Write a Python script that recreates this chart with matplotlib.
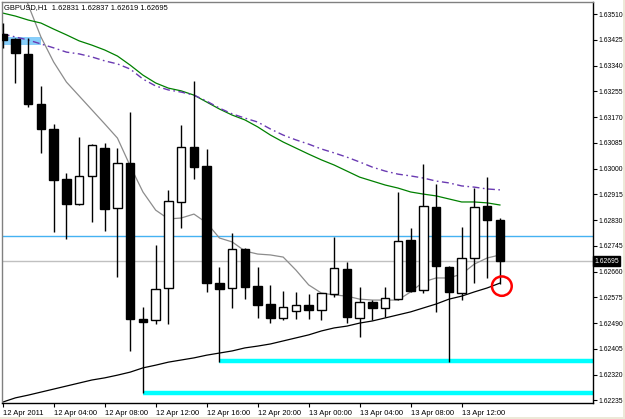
import matplotlib
matplotlib.use('Agg')
import matplotlib.pyplot as plt
from matplotlib.patches import Rectangle, Ellipse

# ---------------- data (GBPUSD H1, 12 Apr 2011 00:00 .. 13 Apr 15:00) ----------------
opens = [1.63445, 1.63428, 1.63380, 1.63215, 1.63131, 1.62966, 1.62884, 1.62975, 1.63068, 1.62870,
         1.63018, 1.62504, 1.62499, 1.62605, 1.62889, 1.63070, 1.63010, 1.62621, 1.62606, 1.62735,
         1.62611, 1.62553, 1.62506, 1.62530, 1.62550, 1.62534, 1.62587, 1.62670, 1.62506, 1.62561,
         1.62541, 1.62570, 1.62763, 1.62600, 1.62875, 1.62676, 1.62590, 1.62704, 1.62877, 1.62831]
highs = [1.63480, 1.63433, 1.63431, 1.63273, 1.63147, 1.62985, 1.63106, 1.63080, 1.63084, 1.63069,
         1.63188, 1.62542, 1.62748, 1.62930, 1.63144, 1.63290, 1.63065, 1.62676, 1.62789, 1.62737,
         1.62674, 1.62616, 1.62596, 1.62594, 1.62586, 1.62589, 1.62775, 1.62693, 1.62610, 1.62566,
         1.62608, 1.62924, 1.62803, 1.63015, 1.62949, 1.62678, 1.62806, 1.62935, 1.62973, 1.62837]
lows = [1.63398, 1.63284, 1.63203, 1.63053, 1.62790, 1.62769, 1.62880, 1.62823, 1.62795, 1.62643,
        1.62399, 1.62258, 1.62487, 1.62486, 1.62805, 1.62966, 1.62592, 1.62362, 1.62541, 1.62569,
        1.62506, 1.62489, 1.62500, 1.62502, 1.62502, 1.62500, 1.62577, 1.62491, 1.62445, 1.62500,
        1.62509, 1.62566, 1.62594, 1.62590, 1.62528, 1.62362, 1.62566, 1.62621, 1.62638, 1.62619]
closes = [1.63425, 1.63381, 1.63214, 1.63130, 1.62964, 1.62882, 1.62976, 1.63078, 1.62866, 1.63018,
          1.62502, 1.62495, 1.62602, 1.62893, 1.63072, 1.63005, 1.62621, 1.62604, 1.62735, 1.62610,
          1.62551, 1.62506, 1.62542, 1.62550, 1.62533, 1.62588, 1.62671, 1.62509, 1.62559, 1.62541,
          1.62572, 1.62762, 1.62597, 1.62878, 1.62678, 1.62594, 1.62704, 1.62874, 1.62831, 1.62695]

ma_gray = [1.63755, 1.63656, 1.63541, 1.63435, 1.63352, 1.63286, 1.63240, 1.63194, 1.63148, 1.63101,
           1.63009, 1.62923, 1.62863, 1.62834, 1.62837, 1.62850, 1.62821, 1.62771, 1.62758, 1.62728,
           1.62718, 1.62715, 1.62708, 1.62665, 1.62616, 1.62589, 1.62583, 1.62579, 1.62569, 1.62566,
           1.62566, 1.62566, 1.62593, 1.62626, 1.62639, 1.62639, 1.62652, 1.62685, 1.62705, 1.62715]
ma_green = [1.63514, 1.63504, 1.63491, 1.63481, 1.63461, 1.63442, 1.63422, 1.63408, 1.63392, 1.63372,
            1.63342, 1.63309, 1.63283, 1.63266, 1.63257, 1.63243, 1.63220, 1.63197, 1.63177, 1.63161,
            1.63138, 1.63111, 1.63088, 1.63068, 1.63048, 1.63029, 1.63012, 1.62992, 1.62972, 1.62959,
            1.62946, 1.62936, 1.62923, 1.62916, 1.62910, 1.62900, 1.62890, 1.62890, 1.62887, 1.62880]
ma_purple = [1.63445, 1.63435, 1.63425, 1.63412, 1.63399, 1.63385, 1.63379, 1.63369, 1.63356, 1.63346,
             1.63329, 1.63296, 1.63273, 1.63260, 1.63253, 1.63243, 1.63223, 1.63200, 1.63181, 1.63167,
             1.63154, 1.63131, 1.63111, 1.63095, 1.63081, 1.63065, 1.63052, 1.63038, 1.63022, 1.63005,
             1.62992, 1.62982, 1.62976, 1.62969, 1.62959, 1.62953, 1.62943, 1.62939, 1.62933, 1.62930]
ma_black = [1.62229, 1.62243, 1.62252, 1.62262, 1.62272, 1.62282, 1.62292, 1.62302, 1.62309, 1.62318,
            1.62328, 1.62342, 1.62351, 1.62361, 1.62368, 1.62375, 1.62384, 1.62391, 1.62398, 1.62408,
            1.62414, 1.62421, 1.62431, 1.62441, 1.62451, 1.62464, 1.62474, 1.62480, 1.62490, 1.62497,
            1.62507, 1.62517, 1.62527, 1.62540, 1.62553, 1.62569, 1.62579, 1.62593, 1.62606, 1.62622]

time_tick_bars = [0, 4, 8, 12, 16, 20, 24, 28, 32, 36]
time_tick_labels = ["12 Apr 2011", "12 Apr 04:00", "12 Apr 08:00", "12 Apr 12:00", "12 Apr 16:00",
                    "12 Apr 20:00", "13 Apr 00:00", "13 Apr 04:00", "13 Apr 08:00", "13 Apr 12:00"]
price_ticks = [1.63510, 1.63425, 1.63340, 1.63255, 1.63170, 1.63085, 1.63000, 1.62915,
               1.62830, 1.62745, 1.62660, 1.62575, 1.62490, 1.62405, 1.62320, 1.62235]

bid_price = 1.62695
blue_level = 1.62778
support_low = 1.62258
support_high = 1.62366
zone_top, zone_bottom = 1.63434, 1.63408
title = "GBPUSD,H1  1.62831 1.62837 1.62619 1.62695"

# ---------------- figure ----------------
W, H = 625, 419
fig = plt.figure(figsize=(W / 100, H / 100), dpi=100)
fig.patch.set_facecolor('white')
ax = fig.add_axes([2 / W, 16 / H, 591 / W, 401.3 / H])
ax.set_facecolor('white')

n = len(opens)
xs = list(range(n))
ax.set_xlim(-0.055, 46.3)
ax.set_ylim(1.62226, 1.635515)

FONT = ['Liberation Sans', 'DejaVu Sans']
YFS = 4.9

# horizontal objects (behind candles)
ax.axhline(blue_level, color='#45B2F2', lw=1.0, zorder=1)
ax.axhline(bid_price, color='#C0C0C0', lw=1.0, zorder=1)
ax.hlines(support_low, 11, 46.3, color='#00FFFF', lw=3.2, zorder=1)
ax.hlines(support_high, 17, 46.3, color='#00FFFF', lw=3.2, zorder=1)
ax.add_patch(Rectangle((0, zone_bottom), 3, zone_top - zone_bottom,
                       facecolor='#87CEFA', edgecolor='none', zorder=1))

# moving averages
ax.plot(xs, ma_gray, color='#8C8C8C', lw=0.9, zorder=2)
ax.plot(xs, ma_green, color='#008000', lw=0.9, zorder=2)
ax.plot(xs, ma_purple, color='#6A3AB2', lw=1.0, zorder=2,
        linestyle=(0, (5, 2.5, 1.2, 2.5)))
ax.plot(xs, ma_black, color='black', lw=0.9, zorder=2)

# candles
bw = 0.66
for i in range(n):
    o, h, l, c = opens[i], highs[i], lows[i], closes[i]
    ax.vlines(i, l, h, color='black', lw=1.0, zorder=3)
    bottom = min(o, c)
    height = max(abs(c - o), 0.000012)
    fc = 'white' if c > o else 'black'
    ax.add_patch(Rectangle((i - bw / 2, bottom), bw, height, facecolor=fc,
                           edgecolor='black', lw=1.0, zorder=4))

# red circle
ax.add_patch(Ellipse((39.15, 1.62612), 1.55, 0.00064, facecolor='none',
                     edgecolor='#FF0000', lw=1.8, zorder=5))

# axes styling
for side in ('top', 'left'):
    ax.spines[side].set_color('#808080')
for side in ('right', 'bottom'):
    ax.spines[side].set_color('black')
for s in ax.spines.values():
    s.set_linewidth(1.0)

ax.yaxis.tick_right()
ax.set_yticks(price_ticks)
ax.set_yticklabels([f"{v:.5f}" for v in price_ticks], fontsize=YFS, family=FONT)
ax.tick_params(axis='y', direction='out', length=3, width=0.8, pad=1.2, colors='black')

ax.set_xticks(time_tick_bars)
ax.set_xticklabels(time_tick_labels, fontsize=5.5, family=FONT)
for lab in ax.get_xticklabels():
    lab.set_horizontalalignment('left')
ax.tick_params(axis='x', direction='out', length=3, width=0.8, pad=2, colors='black')

# current bid label
ax.text(1.002, bid_price, "1.62695", transform=ax.get_yaxis_transform(), fontsize=YFS,
        family=FONT, color='white', va='center', ha='left',
        bbox=dict(boxstyle='square,pad=0.15', facecolor='black', edgecolor='black'))

# title
fig.text(4 / W, 1 - 8 / H, title, fontsize=5.4, family=FONT, color='black', va='center', ha='left')

# window frame strips
fig.patches.append(Rectangle((0, 0), 1, 2 / H, transform=fig.transFigure,
                             facecolor='#ECE9D8', edgecolor='none'))
fig.patches.append(Rectangle((1 - 2 / W, 0), 2 / W, 1, transform=fig.transFigure,
                             facecolor='#ECE9D8', edgecolor='none'))

fig.savefig('out.png', dpi=100, facecolor=fig.get_facecolor())
